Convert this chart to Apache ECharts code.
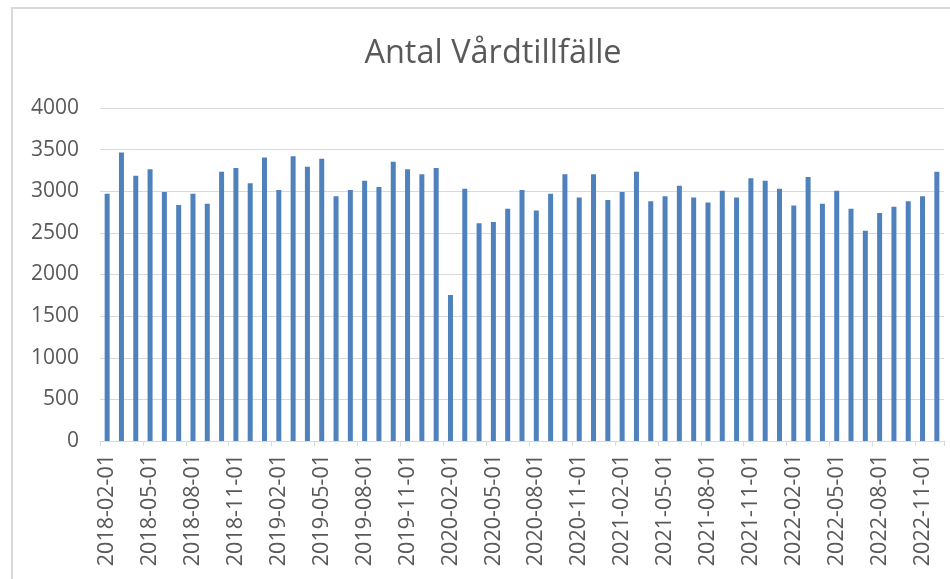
<!DOCTYPE html>
<html>
<head>
<meta charset="utf-8">
<script src="https://cdn.jsdelivr.net/npm/echarts@6/dist/echarts.min.js"></script>
<style>
html,body{margin:0;padding:0;background:#fff;}
#chart{width:950px;height:579px;}
</style>
</head>
<body>
<div id="chart"></div>
<script>
const titleText = 'Antal Vårdtillfälle';
const categories = [
  '2018-02-01','2018-03-01','2018-04-01','2018-05-01','2018-06-01','2018-07-01','2018-08-01','2018-09-01','2018-10-01','2018-11-01','2018-12-01',
  '2019-01-01','2019-02-01','2019-03-01','2019-04-01','2019-05-01','2019-06-01','2019-07-01','2019-08-01','2019-09-01','2019-10-01','2019-11-01','2019-12-01',
  '2020-01-01','2020-02-01','2020-03-01','2020-04-01','2020-05-01','2020-06-01','2020-07-01','2020-08-01','2020-09-01','2020-10-01','2020-11-01','2020-12-01',
  '2021-01-01','2021-02-01','2021-03-01','2021-04-01','2021-05-01','2021-06-01','2021-07-01','2021-08-01','2021-09-01','2021-10-01','2021-11-01','2021-12-01',
  '2022-01-01','2022-02-01','2022-03-01','2022-04-01','2022-05-01','2022-06-01','2022-07-01','2022-08-01','2022-09-01','2022-10-01','2022-11-01','2022-12-01'
];
const values = [
  2970,3465,3185,3265,2990,2835,2970,2850,3235,3280,3095,
  3405,3015,3420,3295,3390,2940,3015,3125,3050,3355,3265,3205,
  3280,1755,3030,2615,2630,2790,3015,2770,2970,3205,2925,3205,
  2895,2990,3235,2880,2940,3065,2925,2865,3005,2925,3155,3125,
  3030,2830,3170,2850,3005,2790,2525,2740,2815,2880,2940,3235
];
const yTicks = [0,500,1000,1500,2000,2500,3000,3500,4000];

const chart = echarts.init(document.getElementById('chart'), null, {renderer:'canvas'});
const FONT = '"Open Sans", "Segoe UI", sans-serif';
chart.setOption({
  animation: false,
  backgroundColor: '#ffffff',
  title: {
    text: titleText,
    left: 488,
    textAlign: 'center',
    top: 32,
    textStyle: {color:'#595959', fontSize:32.5, fontWeight:'normal', fontFamily: FONT}
  },
  graphic: [{
    type:'rect', silent:true, z:-1,
    shape:{x:12, y:8, width:1000, height:1000},
    style:{fill:'none', stroke:'#d9d9d9', lineWidth:2}
  }],
  grid: {left:100, right:6, top:108, bottom:138},
  xAxis: {
    type:'category',
    data: categories,
    boundaryGap: true,
    axisLine: {lineStyle:{color:'#d9d9d9', width:1}},
    axisTick: {show:true, interval:2, length:5, lineStyle:{color:'#d9d9d9'}},
    axisLabel: {interval:2, rotate:90, margin:13, color:'#595959', fontSize:21.5, fontFamily: FONT}
  },
  yAxis: {
    type:'value',
    min: yTicks[0], max: yTicks[yTicks.length-1], interval: 500,
    axisLine: {show:false}, axisTick:{show:false},
    splitLine: {lineStyle:{color:'#d9d9d9', width:1}},
    axisLabel: {margin:21, color:'#595959', fontSize:21, fontFamily: FONT, formatter: v => String(v)}
  },
  series: [{
    type:'bar',
    data: values,
    barWidth: 5,
    itemStyle: {color:'#4F81BD'}
  }]
});
</script>
</body>
</html>
